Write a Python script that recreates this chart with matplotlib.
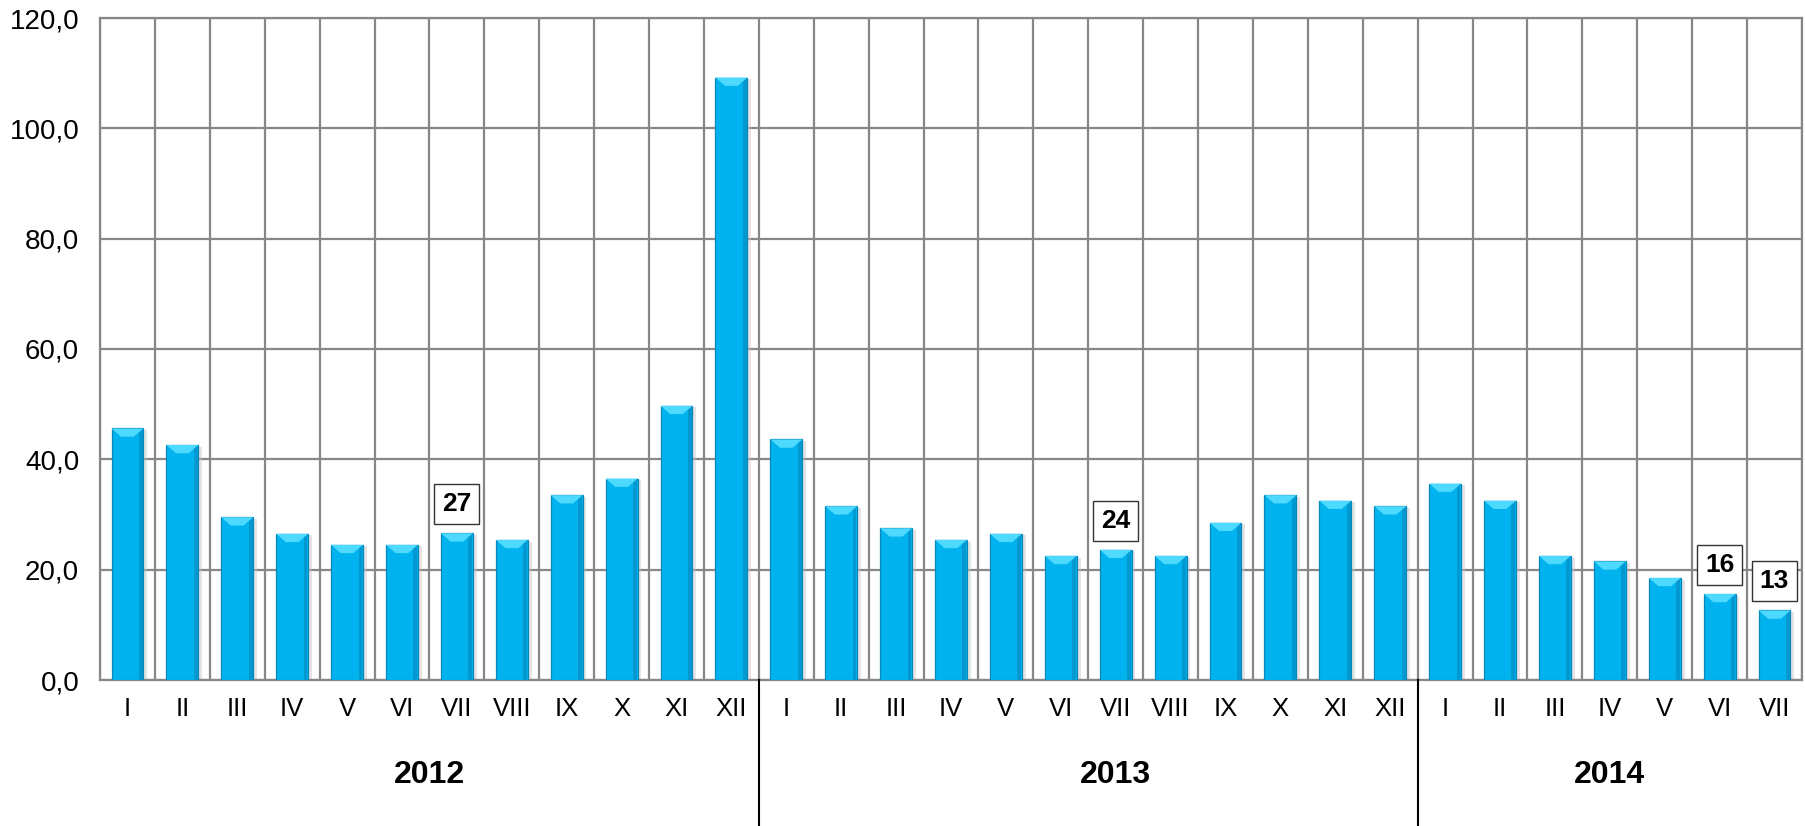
import matplotlib
matplotlib.use("Agg")
import matplotlib.pyplot as plt
import matplotlib.transforms as mtransforms
import numpy as np

plt.rcParams['font.family'] = ['Liberation Sans', 'DejaVu Sans']

months_2012 = ["I", "II", "III", "IV", "V", "VI", "VII", "VIII", "IX", "X", "XI", "XII"]
months_2013 = ["I", "II", "III", "IV", "V", "VI", "VII", "VIII", "IX", "X", "XI", "XII"]
months_2014 = ["I", "II", "III", "IV", "V", "VI", "VII"]
values_2012 = [45.6, 42.6, 29.5, 26.5, 24.5, 24.5, 26.6, 25.4, 33.5, 36.5, 49.7, 109.2]
values_2013 = [43.6, 31.5, 27.5, 25.4, 26.5, 22.5, 23.6, 22.5, 28.5, 33.5, 32.5, 31.5]
values_2014 = [35.6, 32.5, 22.5, 21.5, 18.5, 15.6, 12.6]
years = ["2012", "2013", "2014"]
labelled = [("2012", "VII"), ("2013", "VII"), ("2014", "VI"), ("2014", "VII")]
yticks = [0, 20, 40, 60, 80, 100, 120]

groups = [months_2012, months_2013, months_2014]
months = months_2012 + months_2013 + months_2014
values = np.array(values_2012 + values_2013 + values_2014)
year_of = sum([[y] * len(g) for y, g in zip(years, groups)], [])
x = np.arange(len(values))

fig = plt.figure(figsize=(18.06, 8.26), dpi=100)
W, H = 1806, 826
ax = fig.add_axes([100 / W, (H - 680) / H, 1702 / W, 662 / H])

bw = 0.58
# soft shadow
ax.bar(x + 0.07, values - 0.3, width=bw, color='#c4c4c4', alpha=0.45, zorder=2, linewidth=0)
# main bars
ax.bar(x, values, width=bw, color='#00B3EE', edgecolor='#0A86B8', linewidth=0.9, zorder=3)
# darker right edge band
ax.bar(x + bw * 0.42, values - 0.2, width=bw * 0.12, color='#0398CF', linewidth=0, zorder=3.5)
# bevel cap (light trapezoid on top)
cap = 1.5
inset = bw * 0.30
for xi, v in zip(x, values):
    ax.fill([xi - bw / 2, xi + bw / 2, xi + bw / 2 - inset, xi - bw / 2 + inset],
            [v, v, v - cap, v - cap], color='#4ED9FF', linewidth=0, zorder=4)

ax.set_xlim(-0.5, len(values) - 0.5)
ax.set_ylim(0, 120)
ax.set_yticks(yticks)
ax.set_yticklabels([f"{v:.1f}".replace('.', ',') for v in yticks])
ax.set_xticks(x)
ax.set_xticklabels(months)
ax.set_xticks(np.arange(-0.5, len(values), 1.0), minor=True)

ax.grid(True, axis='y', which='major', color='#878787', linewidth=1.6, zorder=1)
ax.grid(True, axis='x', which='minor', color='#878787', linewidth=1.6, zorder=1)
ax.grid(False, axis='x', which='major')
ax.set_axisbelow(True)
for s in ax.spines.values():
    s.set_color('#878787')
    s.set_linewidth(1.6)

ax.tick_params(axis='y', length=0, pad=15, labelsize=20)
ax.tick_params(axis='x', which='major', length=0, pad=12, labelsize=18.5)
ax.tick_params(axis='x', which='minor', length=0)

# data labels
for yr, mo in labelled:
    i = [k for k in range(len(values)) if year_of[k] == yr and months[k] == mo][0]
    ax.annotate(f"{values[i]:.0f}", xy=(x[i], values[i]), xytext=(0, 21),
                textcoords='offset points', ha='center', va='center',
                fontsize=19, fontweight='bold', zorder=6,
                bbox=dict(boxstyle='square,pad=0.3', fc='white', ec='#333333', lw=1.0))

# year separators and labels
trans = mtransforms.blended_transform_factory(ax.transData, ax.transAxes)
start = 0
year_centers = []
for gi, g in enumerate(groups):
    n = len(g)
    year_centers.append(start + (n - 1) / 2)
    if gi > 0:
        ax.plot([start - 0.5, start - 0.5], [0, -0.23], color='black', lw=1.5,
                transform=trans, clip_on=False, zorder=5)
    start += n
# Excel-like placement of the centred group label
year_pos = [year_centers[0], year_centers[1] + 0.5, year_centers[2]]
for yr, px in zip(years, year_pos):
    ax.text(px, (680 - 775) / 662, yr, transform=trans, ha='center', va='center',
            fontsize=23, fontweight='bold')

fig.savefig("out.png", dpi=100)
